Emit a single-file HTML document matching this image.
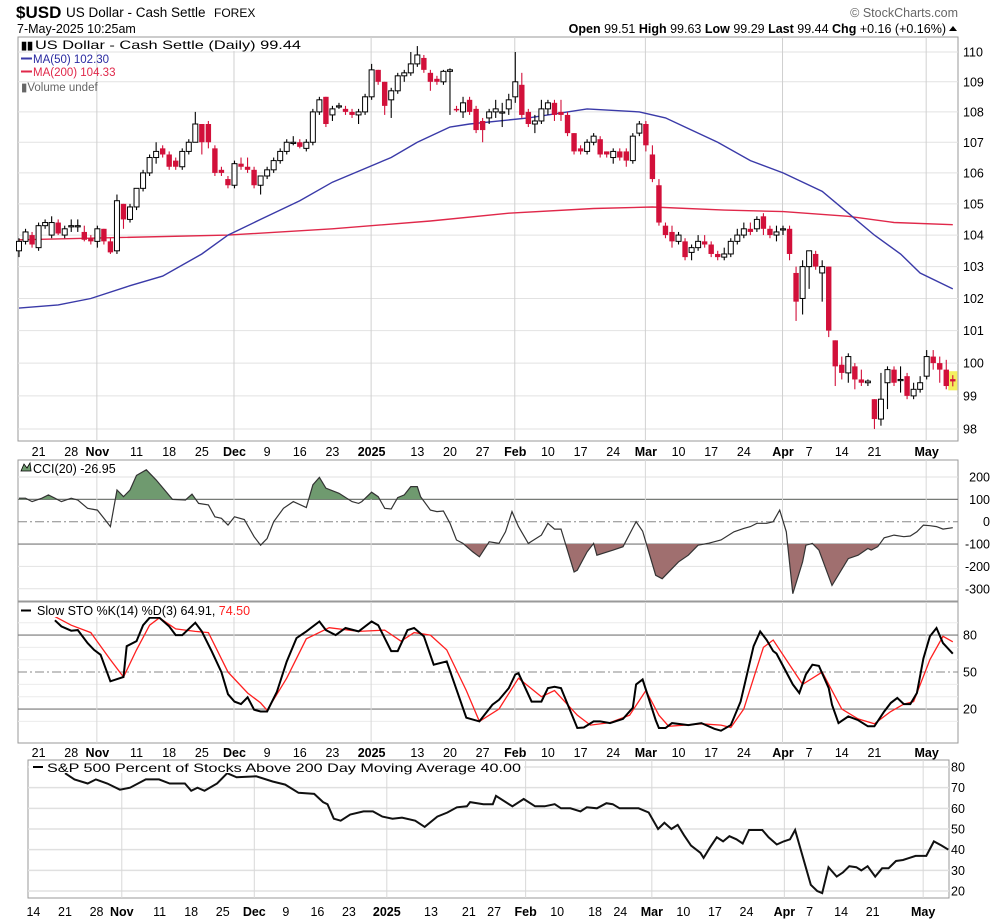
<!DOCTYPE html>
<html><head><meta charset="utf-8"><style>
html,body{margin:0;padding:0;background:#fff;}
svg{display:block;font-family:"Liberation Sans",Arial,sans-serif;}
</style></head><body>
<svg id="chart" width="1004" height="923" viewBox="0 0 1004 923" xmlns="http://www.w3.org/2000/svg">
<rect x="0" y="0" width="1004" height="923" fill="#fff"/>
<g>
<text x="16" y="18" font-size="17" font-weight="bold" fill="#000">$USD</text>
<text x="66" y="17" font-size="13.5" fill="#000">US Dollar - Cash Settle</text>
<text x="214" y="17" font-size="12" fill="#000">FOREX</text>
<text x="17" y="33" font-size="12.5" fill="#000">7-May-2025 10:25am</text>
<text x="958" y="17" font-size="12.5" fill="#666" text-anchor="end">© StockCharts.com</text>
<text x="946" y="33" font-size="12.5" text-anchor="end" fill="#000"><tspan font-weight="bold">Open</tspan> 99.51  <tspan font-weight="bold">High</tspan> 99.63  <tspan font-weight="bold">Low</tspan> 99.29  <tspan font-weight="bold">Last</tspan> 99.44  <tspan font-weight="bold">Chg</tspan> +0.16 (+0.16%)</text>
<polygon points="949,31 957,31 953,26" fill="#000"/>
</g>
<g id="main"></g>
<g id="cci"></g>
<g id="sto"></g>
<g id="sp"></g>
</svg>
<script>
// ---- price data (Oct 16 2024 .. May 7 2025) ----
const opens=[103.5,103.8,104.0,103.6,104.3,104.0,104.4,104.0,104.3,104.3,104.1,103.9,
103.8,104.2,103.8,103.5,105.0,104.5,104.9,105.5,106.0,106.5,106.8,106.6,106.4,106.2,106.7,107.0,107.6,107.6,106.8,106.1,105.8,
105.6,106.3,106.2,106.1,105.6,105.9,106.1,106.4,106.7,107.0,107.0,106.8,107.0,108.0,108.5,107.9,108.2,108.1,108.0,107.9,108.0,
108.5,109.4,109.0,108.4,108.7,109.2,109.3,109.6,109.8,109.3,109.1,109.0,109.35,108.1,108.0,108.4,108.1,107.7,107.8,108.0,108.0,108.1,
108.5,108.9,108.0,107.6,107.7,108.1,108.3,108.0,107.9,107.3,106.8,106.7,107.0,107.1,106.7,106.5,106.7,106.7,106.4,107.3,
107.6,106.6,105.6,104.3,104.1,103.8,103.8,103.45,103.6,103.8,103.7,103.4,103.3,103.4,103.8,104.0,104.2,104.2,104.6,104.2,104.0,
104.2,104.2,102.8,102.0,103.0,103.4,102.8,103.0,100.7,99.95,99.7,99.9,99.5,99.4,98.9,98.3,99.4,99.8,99.5,99.6,99.0,99.2,
99.6,100.2,100.0,99.8,99.51];
const highs=[103.9,104.2,104.1,104.4,104.5,104.6,104.5,104.3,104.5,104.5,104.3,104.0,
104.3,104.2,103.9,105.3,105.0,105.0,105.5,106.1,106.6,107.0,106.9,106.7,106.5,106.8,107.1,108.0,107.6,107.7,106.9,106.2,105.9,
106.4,106.5,106.5,106.2,105.9,106.2,106.5,106.8,107.1,107.2,107.1,107.1,108.1,108.5,108.5,108.2,108.3,108.2,108.1,108.1,108.6,
109.6,109.4,109.0,108.8,109.3,109.4,110.0,110.2,109.9,109.4,109.2,109.4,109.45,108.2,108.5,108.5,108.2,107.8,108.1,108.4,108.3,108.6,
110.0,109.3,108.1,107.9,108.4,108.4,108.4,108.4,108.0,107.3,106.9,107.1,107.3,107.2,106.7,106.8,106.8,106.8,107.3,107.7,
107.7,106.9,105.8,104.4,104.3,104.1,103.9,103.7,104.0,104.0,103.8,103.5,103.6,103.9,104.2,104.4,104.4,104.6,104.7,104.3,104.3,
104.3,104.3,103.0,103.2,103.5,103.5,103.2,103.0,100.7,100.2,100.3,100.0,99.8,99.5,98.9,99.7,99.9,99.9,99.9,99.7,99.4,99.6,
100.4,100.4,100.2,100.1,99.63];
const lows=[103.3,103.7,103.6,103.5,104.2,103.9,104.0,103.9,104.1,104.1,103.8,103.7,
103.6,103.7,103.4,103.4,104.2,104.4,104.8,105.4,105.9,106.3,106.5,106.1,106.1,106.1,106.6,107.0,106.6,106.8,105.9,105.9,105.5,
105.5,106.1,106.0,105.5,105.3,105.8,106.0,106.3,106.6,106.9,106.8,106.7,106.9,107.9,107.5,107.7,108.1,107.9,107.8,107.6,107.9,
108.4,108.9,107.9,107.8,108.6,109.0,109.2,109.5,109.3,108.7,108.9,108.9,107.9,108.0,107.8,107.9,107.3,107.0,107.6,107.8,107.5,107.9,
108.3,107.8,107.5,107.3,107.6,107.9,107.7,107.7,107.2,106.6,106.6,106.6,106.9,106.5,106.5,106.3,106.4,106.2,106.3,107.2,
106.7,105.7,104.3,103.9,103.6,103.7,103.2,103.2,103.5,103.6,103.3,103.2,103.2,103.3,103.7,103.9,104.0,104.1,104.0,103.9,103.8,
104.0,103.2,101.3,101.5,102.3,102.9,101.9,100.8,99.3,99.5,99.4,99.2,99.3,99.3,98.0,98.1,98.6,99.3,99.1,98.9,98.9,99.1,
99.5,99.8,99.4,99.2,99.29];
const closes=[103.8,104.1,103.7,104.3,104.4,104.4,104.05,104.2,104.3,104.3,103.85,103.8,
104.2,103.8,103.45,105.1,104.5,104.9,105.5,106.0,106.5,106.7,106.6,106.2,106.2,106.7,107.0,107.6,107.0,107.0,106.0,106.0,105.6,
106.3,106.2,106.1,105.6,105.9,106.1,106.4,106.7,107.0,107.0,106.85,107.0,108.0,108.4,107.6,108.1,108.2,108.0,107.9,108.0,108.5,
109.4,109.0,108.2,108.7,109.2,109.3,109.6,109.9,109.4,109.0,109.0,109.35,109.4,108.05,108.3,108.0,107.4,107.4,108.0,108.1,108.0,108.4,
109.0,107.9,107.6,107.7,108.1,108.3,107.9,107.9,107.3,106.7,106.7,107.0,107.2,106.6,106.6,106.7,106.5,106.4,107.2,107.6,
106.9,105.8,104.4,104.0,103.8,104.0,103.3,103.6,103.8,103.7,103.4,103.3,103.4,103.8,104.0,104.2,104.1,104.5,104.2,104.0,104.1,
104.2,103.4,101.9,103.0,103.5,103.0,103.0,101.0,99.9,99.7,100.2,99.5,99.4,99.45,98.3,98.9,99.8,99.4,99.5,99.0,99.2,99.4,
100.2,100.0,99.8,99.3,99.44];
const priceTicks=[98,99,100,101,102,103,104,105,106,107,108,109,110];
const ma50Day=[0,6,11,17,22,28,32,37,43,48,57,61,66,69,78,87,95,99,107,112,117,123,127,131,135,138,143];
const ma50Val=[101.7,101.8,102.0,102.4,102.7,103.4,104.0,104.5,105.1,105.7,106.5,107.0,107.5,107.6,107.8,108.1,108.0,107.8,107.0,106.4,106.0,105.4,104.7,104.0,103.4,102.8,102.3];
const ma200Day=[0,32,48,63,75,88,97,108,117,127,134,143];
const ma200Val=[103.85,104.0,104.2,104.45,104.7,104.85,104.9,104.8,104.75,104.6,104.4,104.33];
// ---- date axis ----
const dateLabels=["21","28","Nov","11","18","25","Dec","9","16","23","2025","13","20","27","Feb","10","17","24","Mar","10","17","24","Apr","7","14","21","May"];
const dateDays=[3,8,12,18,23,28,33,38,43,48,54,61,66,71,76,81,86,91,96,101,106,111,117,121,126,131,139];
const monthDays=[12,33,54,76,96,117,139];
const spDateLabels=["14","21","28","Nov","11","18","25","Dec","9","16","23","2025","13","21","27","Feb","10","18","24","Mar","10","17","24","Apr","7","14","21","May"];
const spDateDays=[-2,3,8,12,18,23,28,33,38,43,48,54,61,67,71,76,81,87,91,96,101,106,111,117,121,126,131,139];
// ---- CCI(20) ----
const cciDay=[0,1,2,3.5,4.5,5.5,6.5,8,9,10.5,12,13,14,15,16,17,18,19.5,21,22.5,23.5,25.5,26.5,27.5,29,30,31,32,33,34.5,36,37,38,39,40.5,42,44,45,46,47,49,51,52,52.5,54,55,56,57,58,59,60,61,61.5,63,64,65,66,67,68,69.5,70.5,72,73.5,74.5,75.5,76.5,78,80,81,82,83,85,85.5,87,88,88.5,91,92.5,94.5,95.5,97.5,98.5,101,102.5,104,105.5,107.5,109.5,111,112,113,114.5,115.5,116.5,117.5,118.5,120,120.5,121.5,122.5,124.5,127,128.5,130,130.5,131.5,132.5,134,135.5,136.5,137.5,138.5,139.5,140.5,141.5,143];
const cciVal=[105,105,90,105,120,105,90,105,97,60,52,15,-22,142,112,142,207,232,187,135,100,97,123,82,75,22,15,-15,22,10,-67,-105,-75,0,60,90,63,165,198,150,127,90,82,90,132,112,60,57,108,120,157,157,112,52,45,48,-7,-82,-97,-135,-157,-90,-97,-45,45,-22,-97,-60,-7,-33,-33,-225,-217,-135,-97,-150,-127,-112,0,-42,-240,-255,-180,-150,-105,-97,-82,-45,-30,-22,-7,-7,0,52,-45,-322,-180,-105,-97,-127,-285,-165,-150,-120,-127,-112,-72,-60,-67,-64,-45,-15,-18,-22,-33,-27];
const cciTicks=[200,100,0,-100,-200,-300];
// ---- Slow STO ----
const kDay=[5.5,6.5,8,9,10.5,11.5,12.5,14,16,16.5,18,19,20,21.5,23,24,25,27,28,29.5,31,32,33,34,35,36,37,38,39.5,41,42.5,44,46,47,48.5,50,52,54,55,57,58,59.5,60.5,62,63.5,65.5,68.5,70.5,72.5,73.5,75,76,76.5,78.5,80,81,82,83,85.5,86.5,88,89,90.5,92.5,94,94.5,95.5,97.5,98,99,100,102.5,104.5,106.5,107.5,109,110.5,112.5,113.5,114.5,115.5,116,118.5,119.5,120.5,121.5,122.5,124,124.5,125.5,127,128.5,130,131,132.5,133.5,134.5,135.5,136.5,137.5,138.5,139.5,140.5,141.5,143];
const kVal=[92,87,83.5,84,73.5,68,64,42.5,46,71,75,88,94,94,87,80,80,90,83,67,50,32,26,24,29.5,19.5,18,18,34,58.5,77.5,83,91,84,80,85.7,83,91,88,67,67,84,85.7,79,56,58.6,13,10,23.5,27.5,37,48,49,26,26,37,38,37,4.6,5,10,10,8.6,12,21,40,44,11,4.6,4.6,8.6,7,8.6,4,2.4,7,26,71,83,76,67,65,40,33,48,56,55,37,23.5,8.6,14,11,6,6,18,25,29,24,24,33,61,79,85.7,73.5,64.91];
const dDay=[5.5,8,11,14,16,18,20,21.5,24,27,29,32,35,37,38,41,44,47.5,52,56,58.5,60.5,63,65.5,68.5,70.5,73.5,76.5,80,82,85.5,87.5,90.5,93.5,96,98,99.5,104.5,107.5,109,111,114,115.5,118.5,120,123,126,128.5,131,133.5,135.5,137,139.5,141.5,143];
const dVal=[95,88,82,60,46,68,88,94,85,83,82,50,33,25,19,45,77,86,83,84,75,82,80,68,35,10,20,45,30,35,15,7,9,15,35,15,6,8,7,5,20,70,76,52,40,50,20,12,8,18,24,26,60,79,74.5];
const stoTicks=[80,50,20];
// ---- S&P 500 % above 200 DMA (day 0 = Oct 21) ----
const spDay=[0,1.5,3.6,4.9,6.7,8.7,10.3,12.8,14.9,16.6,19,20,21,22.1,24.1,25.7,27.2,30.3,32.9,34.9,37,39.5,40.9,41.6,42.6,43.7,45.2,47.3,48.8,50.3,51.9,53.4,55.5,57,59,60.6,62.1,63.7,64.2,66.3,67.8,68.3,70.9,72.7,74.5,76,77.6,78.6,80.1,81.7,82.7,84.3,85.8,86.8,87.9,90.9,92.5,94,95,96.1,97.1,98.1,99.2,100.7,101.2,102.2,103.3,104.3,105.3,106.4,107.4,108.4,110.5,111.5,112.8,113.9,114.9,115.7,118.2,119.2,120,121,122.3,123.3,124.3,125.4,126.2,127.2,128.4,129.5,130.5,131.7,132.8,133.8,134.8,136.5,137.7,138.9,140];
const spVal=[77,74,72,74,72,69,70,74,74,72,72,68.5,70,68.5,72,77,75,75.5,73,71.5,67.5,67,63,62,55,54,57,58.5,58.5,56,55,55.5,54,51,56,58,60.5,61,63,62,62,66,61,64.5,61,61,62,60,60,58.5,60.5,60,62.5,62,60,60,58,50,53,50,52,47,42,38.5,36,41,46,44,46.5,45,43,49.5,49.5,46,42.5,44,45,49.5,23,20,19,31.5,27,29,32,31.5,30,32,27,31,31,34.5,35,36,37,37,44,42,40];
const spTicks=[80,70,60,50,40,30,20];

const NS="http://www.w3.org/2000/svg";
function mk(parent,tag,attrs,txt){const e=document.createElementNS(NS,tag);for(const k in attrs)e.setAttribute(k,attrs[k]);if(txt!==undefined)e.textContent=txt;parent.appendChild(e);return e;}
const xMain=i=>19+i*6.53;
const yMain=p=>52+3264*Math.log(110/p);
const yCCI=v=>521.7-v*0.2235;
const ySTO=v=>733.7-v*1.233;
const xSP=k=>65+k*6.31;
const ySP=v=>767+(80-v)*2.067;
const PL=18,PR=958;

// ===== main panel =====
const gM=document.getElementById('main');
let r=mk(gM,'rect',{x:PL,y:37,width:PR-PL,height:404,fill:'#fff',stroke:'#999','stroke-width':1});


priceTicks.forEach(p=>{
  const l=mk(gM,'line',{x1:PL,x2:PR,y1:yMain(p),y2:yMain(p),stroke:'#e2e2e2'});
  
  
  const t=mk(gM,'text',{x:963,y:yMain(p)+4.5,'font-size':12.5,fill:'#000'},String(p));
  
  
});
monthDays.forEach(d=>{
  const l=mk(gM,'line',{x1:xMain(d)-0.5,x2:xMain(d)-0.5,y1:37,y2:441,stroke:'#d0d0d0'});
  
  
});
function maPath(days,vals){return days.map((d,j)=>(j?'L':'M')+xMain(d).toFixed(1)+','+yMain(vals[j]).toFixed(1)).join(' ');}
let m2=mk(gM,'path',{d:maPath(ma200Day,ma200Val),fill:'none',stroke:'#e0284a','stroke-width':1.4});


let m1=mk(gM,'path',{d:maPath(ma50Day,ma50Val),fill:'none',stroke:'#3a3aa8','stroke-width':1.4});


// highlight last
let hl=mk(gM,'rect',{x:xMain(143)-4.5,y:yMain(highs[143])-4,width:9,height:yMain(lows[143])-yMain(highs[143])+8,fill:'#f4f060'});


for(let i=0;i<closes.length;i++){
  const x=xMain(i),o=opens[i],c=closes[i];
  const up=c>=o;
  const col=up?'#000':'#d2103a';
  const g=mk(gM,'g',{});
  
  
  mk(g,'line',{x1:x,x2:x,y1:yMain(highs[i]),y2:yMain(lows[i]),stroke:col,'stroke-width':1.1});
  const yt=yMain(Math.max(o,c)),yb=yMain(Math.min(o,c));
  const h=Math.max(yb-yt,1.2);
  if(up) mk(g,'rect',{x:x-2.5,y:yt,width:5,height:h,fill:'#fff',stroke:'#000','stroke-width':1});
  else mk(g,'rect',{x:x-2.7,y:yt,width:5.4,height:h,fill:col});
}
// legend
const lg=mk(gM,'g',{});


mk(lg,'rect',{x:19,y:38,width:285,height:13,fill:'#fff'});
mk(lg,'text',{x:21,y:49,'font-size':11,'font-weight':'bold',fill:'#000'},'▮▮');
mk(lg,'text',{x:35,y:49,'font-size':12,fill:'#000',textLength:266,lengthAdjust:'spacingAndGlyphs'},'US Dollar - Cash Settle (Daily) 99.44');
mk(lg,'line',{x1:21,x2:32,y1:58.5,y2:58.5,stroke:'#3a3aa8','stroke-width':2});
mk(lg,'text',{x:33,y:63,'font-size':11.5,fill:'#2a2aa0'},'MA(50) 102.30');
mk(lg,'line',{x1:21,x2:32,y1:71.5,y2:71.5,stroke:'#e0284a','stroke-width':2});
mk(lg,'text',{x:33,y:76,'font-size':11.5,fill:'#e0284a'},'MA(200) 104.33');
mk(lg,'text',{x:21,y:91,'font-size':11.5,fill:'#666'},'▮Volume undef');
// date axis under main
function dateRow(parent,y,labels,days,xf){
  labels.forEach((s,j)=>{
    const bold=isNaN(+s)||s==='2025';
    const t=mk(parent,'text',{x:xf(days[j]),y:y,'font-size':12.5,'text-anchor':'middle','font-weight':bold?'bold':'normal',fill:'#000'},s);
    
    
  });
}
dateRow(gM,456,dateLabels,dateDays,xMain);

// ===== CCI panel =====
const gC=document.getElementById('cci');
r=mk(gC,'rect',{x:PL,y:460,width:PR-PL,height:141,fill:'#fff',stroke:'#999'});


cciTicks.forEach(v=>{
  const strong=(v===100||v===-100);
  const attrs={x1:PL,x2:PR,y1:yCCI(v),y2:yCCI(v),stroke:strong?'#777':'#e2e2e2','stroke-width':strong?1.2:1};
  if(v===0){attrs.stroke='#888';attrs['stroke-dasharray']='9,3,2,3';}
  const l=mk(gC,'line',attrs);
  
  
  const t=mk(gC,'text',{x:990,y:yCCI(v)+4.5,'font-size':12.5,'text-anchor':'end',fill:'#000'},String(v));
  
  
});
monthDays.forEach(d=>{const l=mk(gC,'line',{x1:xMain(d)-0.5,x2:xMain(d)-0.5,y1:460,y2:601,stroke:'#d8d8d8'});
  
  });
const defs=mk(document.getElementById('chart'),'defs',{});
const cpA=mk(defs,'clipPath',{id:'cAbove'});mk(cpA,'rect',{x:PL,y:460,width:PR-PL,height:yCCI(100)-460});
const cpB=mk(defs,'clipPath',{id:'cBelow'});mk(cpB,'rect',{x:PL,y:yCCI(-100),width:PR-PL,height:601-yCCI(-100)});
const cciPts=cciDay.map((d,j)=>xMain(d).toFixed(1)+','+yCCI(cciVal[j]).toFixed(1));
const x0=xMain(cciDay[0]).toFixed(1),x1=xMain(cciDay[cciDay.length-1]).toFixed(1);
let fa=mk(gC,'path',{d:'M'+x0+','+yCCI(100)+' L'+cciPts.join(' L')+' L'+x1+','+yCCI(100)+' Z',fill:'#6f9a6f','clip-path':'url(#cAbove)'});


let fb=mk(gC,'path',{d:'M'+x0+','+yCCI(-100)+' L'+cciPts.join(' L')+' L'+x1+','+yCCI(-100)+' Z',fill:'#a06f6f','clip-path':'url(#cBelow)'});


let cl=mk(gC,'polyline',{points:cciPts.join(' '),fill:'none',stroke:'#333','stroke-width':1.2});


let cll=mk(gC,'text',{x:33,y:473,'font-size':12.5,fill:'#000'},'CCI(20) -26.95');


mk(gC,'path',{d:'M21,471 L24,464 L27,468 L30,463 L31,471 Z',fill:'#6f9a6f',stroke:'#000','stroke-width':0.8});

// ===== STO panel =====
const gS=document.getElementById('sto');
r=mk(gS,'rect',{x:PL,y:602,width:PR-PL,height:141,fill:'#fff',stroke:'#999'});


for(let v=0;v<=100;v+=10){if(v%30===20&&v!==50)continue;}
[10,30,40,60,70,90].forEach(v=>{mk(gS,'line',{x1:PL,x2:PR,y1:ySTO(v),y2:ySTO(v),stroke:'#ececec'});});
stoTicks.forEach(v=>{
  const attrs={x1:PL,x2:PR,y1:ySTO(v),y2:ySTO(v),stroke:'#777','stroke-width':1.2};
  if(v===50){attrs.stroke='#888';attrs['stroke-dasharray']='9,3,2,3';attrs['stroke-width']=1;}
  const l=mk(gS,'line',attrs);
  
  
  const t=mk(gS,'text',{x:963,y:ySTO(v)+4.5,'font-size':12.5,fill:'#000'},String(v));
  
  
});
monthDays.forEach(d=>{const l=mk(gS,'line',{x1:xMain(d)-0.5,x2:xMain(d)-0.5,y1:602,y2:743,stroke:'#d8d8d8'});
  
  });
let dl=mk(gS,'polyline',{points:dDay.map((d,j)=>xMain(d).toFixed(1)+','+ySTO(dVal[j]).toFixed(1)).join(' '),fill:'none',stroke:'#ff2020','stroke-width':1.3});


let kl=mk(gS,'polyline',{points:kDay.map((d,j)=>xMain(d).toFixed(1)+','+ySTO(kVal[j]).toFixed(1)).join(' '),fill:'none',stroke:'#000','stroke-width':2});


mk(gS,'rect',{x:19,y:604,width:295,height:13,fill:'#fff'});
mk(gS,'line',{x1:21,x2:31,y1:610.5,y2:610.5,stroke:'#000','stroke-width':2});
let sll=mk(gS,'text',{x:37,y:615,'font-size':12.5,fill:'#000'});


mk(sll,'tspan',{},'Slow STO %K(14) %D(3) 64.91, ');
mk(sll,'tspan',{fill:'#ff2020'},'74.50');
dateRow(gS,757,dateLabels,dateDays,xMain);

// ===== S&P panel =====
const gP=document.getElementById('sp');
r=mk(gP,'rect',{x:28,y:760,width:921,height:138,fill:'#fff',stroke:'#999'});


spTicks.forEach(v=>{
  const l=mk(gP,'line',{x1:28,x2:949,y1:ySP(v),y2:ySP(v),stroke:'#e0e0e0','stroke-width':1.5});
  
  
  const t=mk(gP,'text',{x:951,y:ySP(v)+4.5,'font-size':12.5,fill:'#000'},String(v));
  
  
});
monthDays.forEach(d=>{const l=mk(gP,'line',{x1:xSP(d-3),x2:xSP(d-3),y1:760,y2:898,stroke:'#d8d8d8'});
  
  });
let spl=mk(gP,'polyline',{points:spDay.map((d,j)=>xSP(d).toFixed(1)+','+ySP(spVal[j]).toFixed(1)).join(' '),fill:'none',stroke:'#111','stroke-width':2});


mk(gP,'rect',{x:29,y:761,width:495,height:12,fill:'#fff'});
mk(gP,'line',{x1:33,x2:43,y1:767,y2:767,stroke:'#000','stroke-width':2});
let spt=mk(gP,'text',{x:47,y:772,'font-size':12,fill:'#000',textLength:474,lengthAdjust:'spacingAndGlyphs'},'S&P 500 Percent of Stocks Above 200 Day Moving Average 40.00');


dateRow(gP,916,spDateLabels,spDateDays,d=>xSP(d-3));
</script>
</body></html>
